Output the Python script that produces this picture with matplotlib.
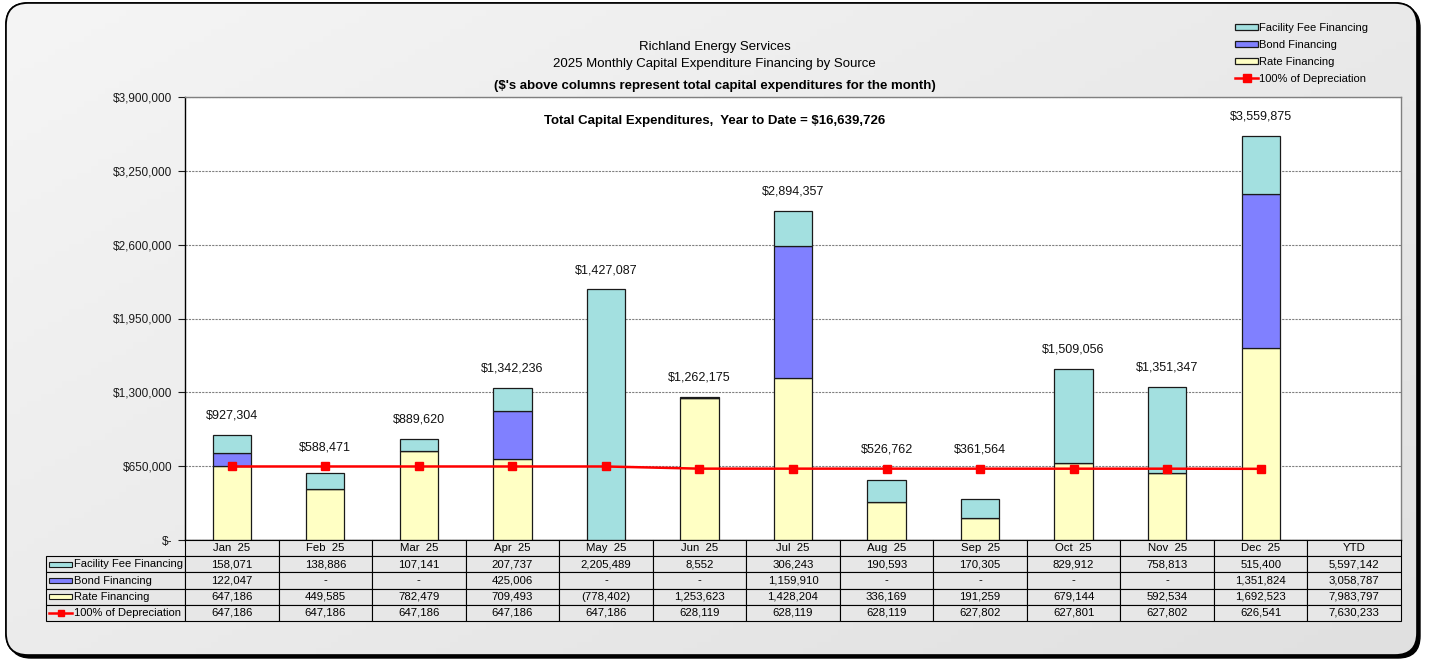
import matplotlib
matplotlib.use('Agg')
import matplotlib.pyplot as plt
from matplotlib.patches import FancyBboxPatch, Rectangle
from matplotlib.lines import Line2D
from matplotlib.colors import LinearSegmentedColormap
from matplotlib.ticker import FuncFormatter
import numpy as np

plt.rcParams['font.family'] = ['Liberation Sans', 'DejaVu Sans']

# ---------------- data ----------------
months = ['Jan  25', 'Feb  25', 'Mar  25', 'Apr  25', 'May  25', 'Jun  25',
          'Jul  25', 'Aug  25', 'Sep  25', 'Oct  25', 'Nov  25', 'Dec  25']
ytd_label = 'YTD'
facility = [158071, 138886, 107141, 207737, 2205489, 8552,
            306243, 190593, 170305, 829912, 758813, 515400]
bond = [122047, 0, 0, 425006, 0, 0,
        1159910, 0, 0, 0, 0, 1351824]
rate = [647186, 449585, 782479, 709493, -778402, 1253623,
        1428204, 336169, 191259, 679144, 592534, 1692523]
depreciation = [647186, 647186, 647186, 647186, 647186, 628119,
                628119, 628119, 627802, 627801, 627802, 626541]
# totals printed above the columns (as shown on the chart)
column_totals = [927304, 588471, 889620, 1342236, 1427087, 1262175,
                 2894357, 526762, 361564, 1509056, 1351347, 3559875]
ytd_values = [5597142, 3058787, 7983797, 7630233]
series_names = ['Facility Fee Financing', 'Bond Financing', 'Rate Financing',
                '100% of Depreciation']
ytd_total_text = 'Total Capital Expenditures,  Year to Date = $16,639,726'
y_ticks = [0, 650000, 1300000, 1950000, 2600000, 3250000, 3900000]

c_fac = '#a3e0e0'
c_bond = '#8080ff'
c_rate = '#ffffc4'
c_line = '#ff0000'

W, H = 1429, 661
fig = plt.figure(figsize=(W / 100, H / 100), dpi=100)
fig.patch.set_facecolor('white')


def fx(x):
    return x / W


def fy(y):
    return 1 - y / H


# ---------------- background frame ----------------
bg = fig.add_axes([0, 0, 1, 1], zorder=-10)
bg.set_xlim(0, W)
bg.set_ylim(H, 0)
bg.axis('off')
shadow = FancyBboxPatch((9, 6), 1411, 652, boxstyle='round,pad=0,rounding_size=22',
                        fc='black', ec='black', lw=1)
bg.add_patch(shadow)
frame = FancyBboxPatch((6, 3), 1411, 652, boxstyle='round,pad=0,rounding_size=22',
                       fc='#ececec', ec='black', lw=1.2)
bg.add_patch(frame)
gx, gy = np.meshgrid(np.linspace(0, 1, 200), np.linspace(0, 1, 100))
grad = 0.55 * gx + 0.45 * gy
cmap = LinearSegmentedColormap.from_list('g', ['#f5f5f5', '#e0e0e0'])
im = bg.imshow(grad, extent=(6, 1417, 655, 3), cmap=cmap, aspect='auto',
               origin='upper', zorder=1)
im.set_clip_path(frame)
frame2 = FancyBboxPatch((6, 3), 1411, 652, boxstyle='round,pad=0,rounding_size=22',
                        fc='none', ec='black', lw=1.2, zorder=2)
bg.add_patch(frame2)

# ---------------- titles ----------------
fig.text(0.5, fy(47), 'Richland Energy Services', ha='center', va='center', fontsize=9.5)
fig.text(0.5, fy(64), '2025 Monthly Capital Expenditure Financing by Source',
         ha='center', va='center', fontsize=9.5)
fig.text(0.5, fy(86), "($'s above columns represent total capital expenditures for the month)",
         ha='center', va='center', fontsize=9.5, fontweight='bold')

# ---------------- main chart ----------------
ax = fig.add_axes([fx(185), fy(540), fx(1401) - fx(185), (540 - 97) / H])
ax.set_facecolor('white')
xm = np.arange(len(months))
rate_arr = np.array(rate, dtype=float)
bond_arr = np.array(bond, dtype=float)
fac_arr = np.array(facility, dtype=float)
pos_rate = np.clip(rate_arr, 0, None)
bw = 0.41
b_rate = ax.bar(xm, rate_arr, width=bw, color=c_rate, edgecolor='#1a1a1a', lw=0.9, zorder=3)
b_bond = ax.bar(xm, bond_arr, bottom=pos_rate, width=bw, color=c_bond,
                edgecolor='#1a1a1a', lw=0.9, zorder=3)
b_fac = ax.bar(xm, fac_arr, bottom=pos_rate + bond_arr, width=bw, color=c_fac,
               edgecolor='#1a1a1a', lw=0.9, zorder=3)
ln, = ax.plot(xm, depreciation, color=c_line, lw=1.8, marker='s', ms=6,
              markeredgecolor=c_line, zorder=5)

tops = pos_rate + bond_arr + fac_arr
anchor = np.maximum(tops, np.array(depreciation, dtype=float))
for i in range(len(months)):
    ax.annotate(f'${column_totals[i]:,.0f}', (xm[i], anchor[i]), xytext=(0, 14),
                textcoords='offset points', ha='center', va='center',
                fontsize=9, color='#111111', zorder=6)

fig.text(0.5, fy(121), ytd_total_text, ha='center', va='center',
         fontsize=9.5, fontweight='bold')

ax.set_xlim(-0.5, len(months) + 0.5)
ax.set_ylim(0, y_ticks[-1])
ax.set_yticks(y_ticks)
ax.yaxis.set_major_formatter(FuncFormatter(lambda v, p: '$-' if v == 0 else f'${v:,.0f}'))
ax.tick_params(axis='y', length=5, width=0.8, pad=4, labelsize=8.5, colors='#1a1a1a',
               direction='out')
ax.tick_params(axis='x', length=0, labelbottom=False)
ax.yaxis.grid(True, color='#808080', ls=(0, (2, 1)), lw=0.8)
ax.set_axisbelow(True)
for s in ['left', 'bottom']:
    ax.spines[s].set_color('black')
    ax.spines[s].set_linewidth(1)
for s in ['top', 'right']:
    ax.spines[s].set_color('#808080')
    ax.spines[s].set_linewidth(1)

# ---------------- legend ----------------
fig.legend(handles=[b_fac, b_bond, b_rate, ln], labels=series_names,
           loc='upper left', bbox_to_anchor=(fx(1235), fy(23)), frameon=False,
           fontsize=8, handlelength=2.1, handleheight=0.45, handletextpad=0.1,
           labelspacing=0.62, borderaxespad=0, borderpad=0)

# ---------------- data table ----------------
col_px = (1401 - 185) / (len(months) + 1)
L = (185 - 46) / col_px
tx = fig.add_axes([fx(46), fy(621), fx(1401) - fx(46), (621 - 540) / H])
tx.set_xlim(-0.5 - L, len(months) + 0.5)
tx.set_ylim(5, 0)
tx.axis('off')
cell_fc = '#e7e7e7'


def fmt(v):
    if v == 0:
        return '-'
    if v < 0:
        return f'({-v:,})'
    return f'{v:,}'


headers = months + [ytd_label]
for j, h in enumerate(headers):
    tx.add_patch(Rectangle((j - 0.5, 0), 1, 1, fc=cell_fc, ec='black', lw=0.8, clip_on=False))
    tx.text(j, 0.5, h, ha='center', va='center', fontsize=8.2)

rows = [facility, bond, rate, depreciation]
for r, (name, vals) in enumerate(zip(series_names, rows), start=1):
    tx.add_patch(Rectangle((-0.5 - L, r), L, 1, fc=cell_fc, ec='black', lw=0.8, clip_on=False))
    x0 = -0.5 - L + 3.0 / col_px
    x1 = -0.5 - L + 26 / col_px
    if r < 4:
        fc = [c_fac, c_bond, c_rate][r - 1]
        tx.add_patch(Rectangle((x0, r + 0.33), x1 - x0, 0.34, fc=fc, ec='#1a1a1a', lw=0.8,
                               clip_on=False))
    else:
        tx.add_line(Line2D([x0, x1], [r + 0.5, r + 0.5], color=c_line, lw=1.8, clip_on=False))
        tx.add_line(Line2D([(x0 + x1) / 2], [r + 0.5], color=c_line, marker='s', ms=5,
                           clip_on=False))
    tx.text(x1 + 1.5 / col_px, r + 0.5, name, ha='left', va='center', fontsize=8)
    for j, v in enumerate(list(vals) + [ytd_values[r - 1]]):
        tx.add_patch(Rectangle((j - 0.5, r), 1, 1, fc=cell_fc, ec='black', lw=0.8,
                               clip_on=False))
        tx.text(j, r + 0.5, fmt(v), ha='center', va='center', fontsize=8.2)

fig.savefig('out.png', dpi=100)
